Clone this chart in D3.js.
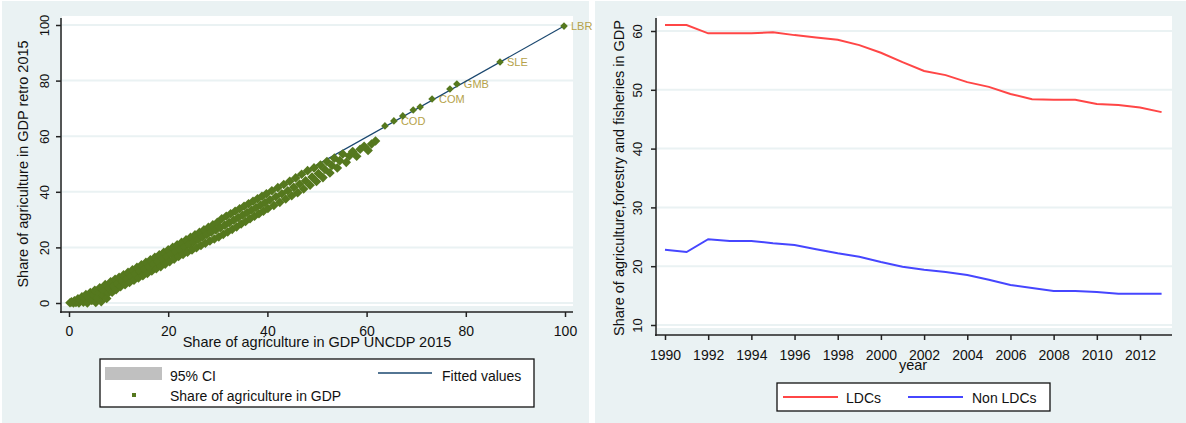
<!DOCTYPE html>
<html>
<head>
<meta charset="utf-8">
<title>Share of agriculture in GDP</title>
<script src="https://d3js.org/d3.v7.min.js"></script>
<style>
body { margin: 0; background: #fff; }
svg text { font-family: "Liberation Sans", Arial, sans-serif; fill: #111; }
</style>
</head>
<body>
<div id="chart"></div>
<script>

// ---- data ----

// left panel: share of agriculture in GDP, [UNCDP 2015, retro 2015]
var agriPoints = [
  [0.2,0.1],[0.5,0.4],[0.9,0],[1.1,0.8],[1.4,0.2],[1.8,1.5],[2.0,0],[2.3,1.0],[2.6,2.2],[2.9,0.3],
  [3.2,1.6],[3.4,3.0],[3.7,0],[4.0,2.1],[4.3,3.8],[4.6,0.9],[4.9,2.9],[5.2,4.6],[5.4,0.2],[5.7,1.8],
  [6.0,3.6],[6.2,5.5],[6.5,0.5],[6.8,2.8],[7.0,4.4],[7.3,6.6],[7.6,1.6],[7.9,3.5],
  [8.1,5.4],[8.4,7.6],[8.7,3.9],[9.0,6.1],[9.3,8.5],[9.5,4.8],[9.8,7.0],[10.1,9.2],[10.4,5.9],[10.7,7.9],
  [11.0,10.1],[11.3,6.6],[11.6,8.8],[11.9,11.0],[12.2,7.4],[12.5,9.6],[12.8,11.9],[13.1,8.2],[13.4,10.5],[13.7,12.8],
  [14.0,9.0],[14.3,11.4],[14.6,13.7],[14.9,9.8],[15.2,12.2],[15.5,14.6],[15.8,10.6],[16.1,13.1],[16.4,15.5],[16.7,11.5],
  [17.0,14.0],[17.3,16.4],[17.6,12.3],[17.9,14.9],[18.2,17.3],[18.5,13.1],[18.8,15.8],[19.1,18.2],[19.4,14.0],[19.7,16.7],
  [20.0,19.1],[20.3,14.9],[20.6,17.6],[20.9,20.0],[21.2,15.8],[21.5,18.5],[21.8,20.9],[22.1,16.7],[22.4,19.3],[22.7,21.8],
  [23.0,17.5],[23.3,20.2],[23.6,22.7],[23.9,18.3],[24.2,21.0],[24.5,23.6],[24.8,19.1],[25.1,21.9],[25.4,24.5],[25.7,19.9],
  [26.0,22.8],[26.3,25.4],[26.6,20.7],[26.9,23.7],[27.2,26.3],[27.5,21.5],[27.8,24.6],[28.1,27.2],[28.4,22.3],[28.7,25.5],
  [29.0,28.1],[29.3,23.0],[29.6,26.3],[29.9,29.0],[30.2,23.8],[30.5,27.1],[30.8,30.3],[31.1,24.7],[31.4,28.0],[31.7,31.2],
  [32.0,25.6],[32.3,28.9],[32.6,32.1],[32.9,26.5],[33.2,29.8],[33.5,33.0],[33.8,27.4],[34.1,30.7],[34.4,33.9],[34.7,28.4],
  [35.0,31.6],[35.3,34.8],[35.6,29.3],[35.9,32.5],[36.2,35.7],[36.5,30.3],[36.8,33.4],[37.1,36.6],[37.4,31.2],[37.7,34.3],
  [38.0,37.5],[38.3,32.1],[38.6,35.2],[38.9,38.4],[39.2,33.0],[39.5,36.1],[39.8,39.3],
  [40.1,34.0],[40.5,37.1],[40.9,40.4],[41.3,35.1],[41.7,38.2],[42.1,41.5],[42.5,36.2],[42.9,39.3],[43.3,42.6],[43.7,37.4],
  [44.1,40.4],[44.5,43.8],[44.9,38.6],[45.3,41.6],[45.7,45.0],[46.1,39.7],[46.5,42.8],[46.9,46.3],[47.3,41.0],[47.7,44.0],
  [48.1,47.6],[48.6,42.4],[49.0,45.3],[49.4,48.6],[49.9,43.7],[50.3,46.6],[50.7,49.6],[51.2,45.1],[51.6,48.0],[52.0,50.9],
  [52.6,46.8],[53.0,49.5],[53.5,52.1],[54.1,48.6],[54.6,51.2],[55.2,53.6],[55.9,50.6],[56.5,52.9],[57.2,54.5],[58.0,52.8],
  [58.7,55.3],[59.5,56.4],[60.3,54.9],[61.0,57.2],[61.8,58.3]
];

// the few points standing apart at the top
var topUncdp  = [63.7, 65.5, 67.3, 69.4, 70.8, 73.2, 76.8, 78.2, 86.9, 99.8];
var topRetro  = [63.7, 65.5, 67.3, 69.4, 70.5, 73.4, 77.0, 78.8, 86.7, 99.6];
// marker labels that can still be read in the picture
var labelCodes = ["COD", "COM", "GMB", "SLE", "LBR"];
var labelUncdp = [65.5, 73.2, 78.2, 86.9, 99.8];
var labelRetro = [65.5, 73.4, 78.8, 86.7, 99.6];

// fitted values (end points of the regression line)
var fitUncdp = [0, 100];
var fitRetro = [-0.4, 99.8];

var agriTicks = [0, 20, 40, 60, 80, 100];

// right panel: share of agriculture, forestry and fisheries in GDP
var years = [1990,1991,1992,1993,1994,1995,1996,1997,1998,1999,2000,2001,
             2002,2003,2004,2005,2006,2007,2008,2009,2010,2011,2012,2013];
var ldcShare    = [61.0,61.0,59.6,59.6,59.6,59.8,59.3,58.9,58.5,57.6,56.3,54.7,
                   53.2,52.5,51.3,50.5,49.3,48.4,48.3,48.3,47.6,47.4,47.0,46.2];
var nonLdcShare = [22.8,22.4,24.6,24.3,24.3,23.9,23.6,22.9,22.2,21.6,20.7,19.9,
                   19.4,19.0,18.5,17.7,16.8,16.3,15.8,15.8,15.6,15.3,15.3,15.3];
var yearTicks  = [1990,1992,1994,1996,1998,2000,2002,2004,2006,2008,2010,2012];
var shareTicks = [10, 20, 30, 40, 50, 60];

// ---- drawing ----

var bg = "#eaf2f3";
var green = "#55781e";

var svg = d3.select("#chart").append("svg")
  .attr("width", 1186).attr("height", 423);

function diamond(r) {
  return "M0," + (-r) + "L" + r + ",0L0," + r + "L" + (-r) + ",0Z";
}

/*** left panel: scatter ***/

var left = svg.append("g");
left.append("rect").attr("x", 2).attr("y", 1).attr("width", 587).attr("height", 422).style("fill", bg);
left.append("rect").attr("x", 62).attr("y", 16).attr("width", 511).attr("height", 290).style("fill", "#fff");

var xAgri = d3.scaleLinear().domain([0, 100]).range([69, 565]);
var yAgri = d3.scaleLinear().domain([0, 100]).range([303, 25]);

left.selectAll("line.grid").data(agriTicks).enter().append("line")
  .attr("class", "grid")
  .attr("x1", 62).attr("x2", 573)
  .attr("y1", function (d) { return yAgri(d); })
  .attr("y2", function (d) { return yAgri(d); })
  .style("stroke", bg).style("stroke-width", 2);

var yAxisL = left.append("g").attr("transform", "translate(61,0)")
  .call(d3.axisLeft(yAgri).tickValues(agriTicks).tickSize(5).tickSizeOuter(0));
yAxisL.select(".domain").remove();
yAxisL.selectAll(".tick text")
  .attr("x", null).attr("dy", null)
  .attr("transform", "translate(-12,0) rotate(-90)")
  .attr("text-anchor", "middle")
  .style("font-size", "13px");

var xAxisL = left.append("g").attr("transform", "translate(0,312)")
  .call(d3.axisBottom(xAgri).tickValues(agriTicks).tickSize(5).tickSizeOuter(0));
xAxisL.select(".domain").remove();
xAxisL.selectAll(".tick text").attr("y", 24).attr("dy", null).style("font-size", "14px");

left.append("line").attr("x1", 61).attr("x2", 61).attr("y1", 18).attr("y2", 313)
  .style("stroke", "#222").style("stroke-width", 1.5);
left.append("line").attr("x1", 60).attr("x2", 573).attr("y1", 312).attr("y2", 312)
  .style("stroke", "#222").style("stroke-width", 1.5);
left.selectAll(".tick line").style("stroke", "#222").style("stroke-width", 1.5);

left.append("text")
  .attr("transform", "translate(28,164) rotate(-90)")
  .attr("text-anchor", "middle").style("font-size", "14.5px")
  .text("Share of agriculture in GDP retro 2015");
left.append("text")
  .attr("x", 317).attr("y", 347)
  .attr("text-anchor", "middle").style("font-size", "14.5px")
  .text("Share of agriculture in GDP UNCDP 2015");

// marker labels first, markers over them
left.selectAll("text.mlab").data(labelCodes).enter().append("text")
  .attr("class", "mlab")
  .attr("x", function (d, i) { return xAgri(labelUncdp[i]) + 7; })
  .attr("y", function (d, i) { return yAgri(labelRetro[i]) + 4; })
  .style("font-size", "11px").style("fill", "#b5a24a")
  .text(function (d) { return d; });

left.append("line")
  .attr("x1", xAgri(fitUncdp[0])).attr("y1", yAgri(fitRetro[0]))
  .attr("x2", xAgri(fitUncdp[1])).attr("y2", yAgri(fitRetro[1]))
  .style("stroke", "#1a476f").style("stroke-width", 1.2);

var allPoints = agriPoints.concat(topUncdp.map(function (x, i) { return [x, topRetro[i]]; }));
left.selectAll("path.pt").data(allPoints).enter().append("path")
  .attr("class", "pt")
  .attr("d", function (d) { return diamond(d[0] > 62 ? 3.8 : 4.8); })
  .attr("transform", function (d) { return "translate(" + xAgri(d[0]) + "," + yAgri(d[1]) + ")"; })
  .style("fill", green);

// legend
var legL = left.append("g");
legL.append("rect").attr("x", 100).attr("y", 359).attr("width", 434).attr("height", 48)
  .style("fill", "#fff").style("stroke", "#111").style("stroke-width", 1.3);
legL.append("rect").attr("x", 105).attr("y", 367).attr("width", 57).attr("height", 13).style("fill", "#c0c0c0");
legL.append("text").attr("x", 170).attr("y", 381).style("font-size", "14px").text("95% CI");
legL.append("rect").attr("x", 132).attr("y", 393).attr("width", 4).attr("height", 4).style("fill", green);
legL.append("text").attr("x", 170).attr("y", 401).style("font-size", "14px").text("Share of agriculture in GDP");
legL.append("line").attr("x1", 378).attr("x2", 432).attr("y1", 373).attr("y2", 373)
  .style("stroke", "#1a476f").style("stroke-width", 1.3);
legL.append("text").attr("x", 442).attr("y", 381).style("font-size", "14px").text("Fitted values");

/*** right panel: time series ***/

var right = svg.append("g");
right.append("rect").attr("x", 595).attr("y", 1).attr("width", 591).attr("height", 422).style("fill", bg);
right.append("rect").attr("x", 657).attr("y", 16).attr("width", 515).attr("height", 312).style("fill", "#fff");

var xYear = d3.scaleLinear().domain([1990, 2012]).range([665, 1140]);
var yShare = d3.scaleLinear().domain([10, 60]).range([325, 31]);

right.selectAll("line.grid").data(shareTicks).enter().append("line")
  .attr("class", "grid")
  .attr("x1", 657).attr("x2", 1172)
  .attr("y1", function (d) { return yShare(d); })
  .attr("y2", function (d) { return yShare(d); })
  .style("stroke", bg).style("stroke-width", 2);

var yAxisR = right.append("g").attr("transform", "translate(656,0)")
  .call(d3.axisLeft(yShare).tickValues(shareTicks).tickSize(5).tickSizeOuter(0));
yAxisR.select(".domain").remove();
yAxisR.selectAll(".tick text")
  .attr("x", null).attr("dy", null)
  .attr("transform", "translate(-14,0) rotate(-90)")
  .attr("text-anchor", "middle")
  .style("font-size", "13px");

var xAxisR = right.append("g").attr("transform", "translate(0,335)")
  .call(d3.axisBottom(xYear).tickValues(yearTicks).tickFormat(d3.format("d")).tickSize(5).tickSizeOuter(0));
xAxisR.select(".domain").remove();
xAxisR.selectAll(".tick text").attr("y", 25).attr("dy", null).style("font-size", "14px");

right.append("line").attr("x1", 656).attr("x2", 656).attr("y1", 18).attr("y2", 336)
  .style("stroke", "#222").style("stroke-width", 1.5);
right.append("line").attr("x1", 655).attr("x2", 1172).attr("y1", 335).attr("y2", 335)
  .style("stroke", "#222").style("stroke-width", 1.5);
right.selectAll(".tick line").style("stroke", "#222").style("stroke-width", 1.5);

right.append("text")
  .attr("transform", "translate(624,178) rotate(-90)")
  .attr("text-anchor", "middle").style("font-size", "14.5px")
  .text("Share of agriculture,forestry and fisheries in GDP");
right.append("text")
  .attr("x", 913).attr("y", 370)
  .attr("text-anchor", "middle").style("font-size", "14.5px")
  .text("year");

var shareLine = function (values) {
  return d3.line()
    .x(function (d, i) { return xYear(years[i]); })
    .y(function (d) { return yShare(d); })(values);
};

right.append("path").attr("d", shareLine(ldcShare))
  .style("fill", "none").style("stroke", "#ff4646").style("stroke-width", 2);
right.append("path").attr("d", shareLine(nonLdcShare))
  .style("fill", "none").style("stroke", "#4646ff").style("stroke-width", 2);

var legR = right.append("g");
legR.append("rect").attr("x", 777).attr("y", 383).attr("width", 273).attr("height", 28)
  .style("fill", "#fff").style("stroke", "#111").style("stroke-width", 1.3);
legR.append("line").attr("x1", 783).attr("x2", 838).attr("y1", 397).attr("y2", 397)
  .style("stroke", "#ff4646").style("stroke-width", 2);
legR.append("text").attr("x", 846).attr("y", 403).style("font-size", "14px").text("LDCs");
legR.append("line").attr("x1", 908).attr("x2", 963).attr("y1", 397).attr("y2", 397)
  .style("stroke", "#4646ff").style("stroke-width", 2);
legR.append("text").attr("x", 972).attr("y", 403).style("font-size", "14px").text("Non LDCs");

</script>
</body>
</html>
